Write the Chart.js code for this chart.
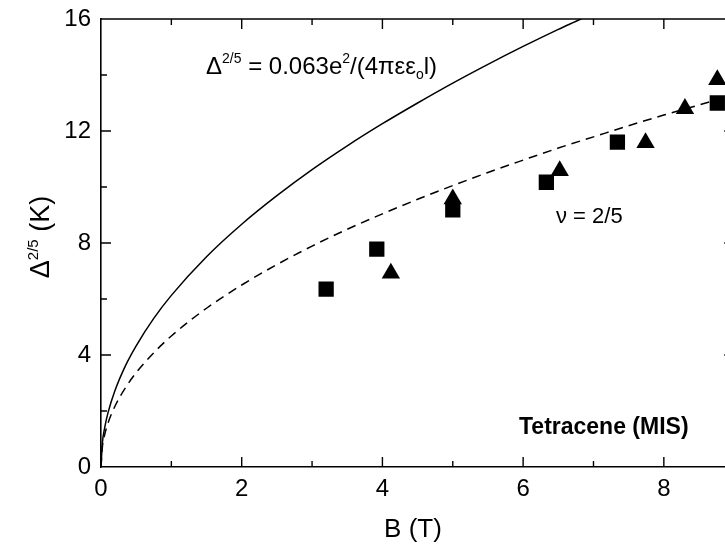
<!DOCTYPE html>
<html>
<head>
<meta charset="utf-8">
<script src="https://cdn.jsdelivr.net/npm/chart.js@4"></script>
<style>
  html, body { margin: 0; padding: 0; background: #fff; overflow: hidden; }
  #wrap { width: 745px; height: 550px; }
</style>
</head>
<body>
<div id="wrap"><canvas id="chart" width="745" height="550"></canvas></div>
<script>
// ---- data ----
const squareB = [3.20, 3.92, 5.00, 6.33, 7.34, 8.76];
const squareD = [6.35, 7.78, 9.18, 10.17, 11.60, 13.00];

const triangleB = [4.12, 5.00, 6.52, 7.74, 8.30, 8.76];
const triangleD = [6.92, 9.57, 10.58, 11.58, 12.80, 13.83];

// solid line (Coulomb energy scale)
const solidB = [0, 0.02, 0.05, 0.1, 0.2, 0.35, 0.5, 0.75, 1, 1.5, 2, 2.5, 3, 3.5, 4, 4.5, 5, 5.5, 6, 6.5, 6.82, 7];
const solidD = [0, 0.87, 1.37, 1.94, 2.74, 3.63, 4.33, 5.31, 6.13, 7.51, 8.67, 9.69, 10.62, 11.47, 12.26, 13.00, 13.71, 14.38, 15.02, 15.63, 16.0, 16.22];

// dashed line (nu = 2/5 fit)
const dashB = [0, 0.02, 0.05, 0.1, 0.2, 0.35, 0.5, 0.75, 1, 1.5, 2, 2.5, 3, 3.5, 4, 4.5, 5, 5.5, 6, 6.5, 7, 7.5, 8, 8.5, 9];
const dashD = [0, 0.73, 1.13, 1.57, 2.18, 2.84, 3.37, 4.08, 4.68, 5.67, 6.50, 7.23, 7.89, 8.49, 9.04, 9.56, 10.05, 10.52, 10.96, 11.39, 11.79, 12.19, 12.57, 12.93, 13.29];

const xTicks = [0, 2, 4, 6, 8];
const yTicks = [0, 4, 8, 12, 16];

const FONT = '"Liberation Sans", Arial, sans-serif';

function pts(xs, ys) {
    return xs.map((x, i) => ({ x: x, y: ys[i] }));
}

// draw a run of text pieces with super/subscripts
function richWidth(ctx, parts) {
    let w = 0;
    parts.forEach(p => {
        ctx.font = (p.bold ? 'bold ' : '') + p.size + 'px ' + FONT;
        w += ctx.measureText(p.t).width;
    });
    return w;
}
function drawRich(ctx, parts, x, y) {
    parts.forEach(p => {
        ctx.font = (p.bold ? 'bold ' : '') + p.size + 'px ' + FONT;
        ctx.fillText(p.t, x, y + (p.dy || 0));
        x += ctx.measureText(p.t).width;
    });
}

// inward ticks on all four sides + frame + annotations
const framePlugin = {
    id: 'frame',
    afterDraw(chart) {
        const ctx = chart.ctx;
        const a = chart.chartArea;
        const xs = chart.scales.x, ys = chart.scales.y;
        ctx.save();
        ctx.strokeStyle = '#000';
        ctx.lineWidth = 1.6;
        ctx.beginPath();
        ctx.moveTo(a.left, a.top); ctx.lineTo(a.right, a.top);
        ctx.moveTo(a.right, a.top); ctx.lineTo(a.right, a.bottom);
        ctx.stroke();

        ctx.lineWidth = 1.4;
        ctx.beginPath();
        for (let v = 1; v <= 8; v++) {
            const px = xs.getPixelForValue(v);
            const len = v % 2 === 0 ? 10 : 6;
            ctx.moveTo(px, a.bottom); ctx.lineTo(px, a.bottom - len);
            ctx.moveTo(px, a.top); ctx.lineTo(px, a.top + len);
        }
        for (let v = 2; v <= 14; v += 2) {
            const py = ys.getPixelForValue(v);
            const len = v % 4 === 0 ? 10 : 6;
            ctx.moveTo(a.left, py); ctx.lineTo(a.left + len, py);
            ctx.moveTo(a.right, py); ctx.lineTo(a.right - len, py);
        }
        ctx.stroke();

        ctx.fillStyle = '#000';
        ctx.textBaseline = 'alphabetic';
        ctx.textAlign = 'left';

        // equation label
        drawRich(ctx, [
            { t: '\u0394', size: 24 },
            { t: '2/5', size: 14, dy: -11 },
            { t: ' = 0.063e', size: 24 },
            { t: '2', size: 14, dy: -11 },
            { t: '/(4\u03c0\u03b5\u03b5', size: 24 },
            { t: 'o', size: 14, dy: 5 },
            { t: 'l)', size: 24 }
        ], 206, 74);

        drawRich(ctx, [{ t: '\u03bd = 2/5', size: 22 }], 556, 223);
        drawRich(ctx, [{ t: 'Tetracene (MIS)', size: 23, bold: true }], 519, 434);

        // x axis title
        const xt = [{ t: 'B (T)', size: 26 }];
        drawRich(ctx, xt, 413 - richWidth(ctx, xt) / 2, 537);

        // y axis title, rotated
        const yt = [
            { t: '\u0394', size: 27 },
            { t: '2/5', size: 15, dy: -11 },
            { t: ' (K)', size: 27 }
        ];
        const w = richWidth(ctx, yt);
        ctx.translate(49, 237);
        ctx.rotate(-Math.PI / 2);
        drawRich(ctx, yt, -w / 2, 0);
        ctx.restore();
    }
};

new Chart(document.getElementById('chart'), {
    type: 'scatter',
    data: {
        datasets: [
            {
                label: 'fit',
                data: pts(solidB, solidD),
                showLine: true,
                borderColor: '#000',
                borderWidth: 1.5,
                pointRadius: 0,
                cubicInterpolationMode: 'monotone',
                order: 3
            },
            {
                label: 'nu=2/5',
                data: pts(dashB, dashD),
                showLine: true,
                borderColor: '#000',
                borderWidth: 1.5,
                borderDash: [9, 6],
                pointRadius: 0,
                cubicInterpolationMode: 'monotone',
                order: 2
            },
            {
                label: 'squares',
                data: pts(squareB, squareD),
                pointStyle: 'rect',
                pointRadius: 10.8,
                backgroundColor: '#000',
                borderColor: '#000',
                borderWidth: 0,
                order: 1
            },
            {
                label: 'triangles',
                data: pts(triangleB, triangleD),
                pointStyle: 'triangle',
                pointRadius: 10.6,
                backgroundColor: '#000',
                borderColor: '#000',
                borderWidth: 0,
                order: 1
            }
        ]
    },
    options: {
        responsive: false,
        animation: false,
        events: [],
        layout: { padding: { top: 19, right: 10, left: 0, bottom: 0 } },
        plugins: {
            legend: { display: false },
            tooltip: { enabled: false }
        },
        scales: {
            x: {
                type: 'linear',
                min: 0,
                max: 9,
                grid: { display: false, drawTicks: false },
                border: { display: true, color: '#000', width: 1.6 },
                afterBuildTicks: s => { s.ticks = xTicks.map(v => ({ value: v })); },
                afterFit: s => { s.height = 83; s.paddingLeft = 0; s.paddingRight = 0; },
                ticks: { color: '#000', padding: 8, font: { family: FONT, size: 24 } }
            },
            y: {
                type: 'linear',
                min: 0,
                max: 16,
                grid: { display: false, drawTicks: false },
                border: { display: true, color: '#000', width: 1.6 },
                afterBuildTicks: s => { s.ticks = yTicks.map(v => ({ value: v })); },
                afterFit: s => { s.width = 101; s.paddingTop = 0; s.paddingBottom = 0; },
                ticks: { color: '#000', padding: 10, font: { family: FONT, size: 24 } }
            }
        }
    },
    plugins: [framePlugin]
});
</script>
</body>
</html>
